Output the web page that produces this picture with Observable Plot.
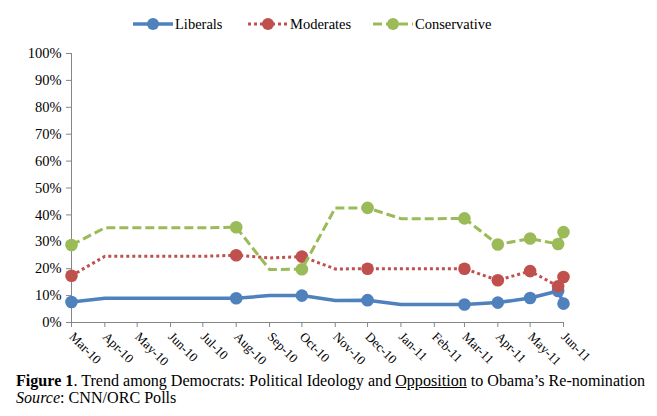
<!DOCTYPE html>
<html>
<head>
<meta charset="utf-8">
<script src="https://cdn.jsdelivr.net/npm/d3@7"></script>
<script src="https://cdn.jsdelivr.net/npm/@observablehq/plot@0.6"></script>
<style>
  body { margin: 0; background: #fff; font-family: "Liberation Serif", "Times New Roman", Tinos, "DejaVu Serif", serif; }
  #wrap { position: relative; width: 657px; height: 416px; overflow: hidden; }
  #legend { position: absolute; top: 12px; left: 0; width: 657px; height: 24px; font-size: 14.5px; color: #000; }
  .item { position: absolute; top: 0; display: flex; align-items: center; height: 24px; }
  .item svg { margin-right: 2px; }
  #chart { position: absolute; top: 40px; left: 0; }
  #caption { position: absolute; left: 16px; top: 373px; font-size: 16.1px; line-height: 16.5px; color: #000; white-space: nowrap; }
</style>
</head>
<body>
<div id="wrap">
  <div id="legend"></div>
  <div id="chart"></div>
  <div id="caption"><b>Figure 1</b>. Trend among Democrats: Political Ideology and <u>Opposition</u> to Obama’s Re-nomination<br><i>Source</i>: CNN/ORC Polls</div>
</div>
<script>
const dates = ["2010-03-01","2010-04-01","2010-05-01","2010-06-01","2010-07-01","2010-08-01","2010-09-01","2010-10-01","2010-11-01","2010-12-01","2011-01-01","2011-02-01","2011-03-01","2011-04-01","2011-05-01","2011-05-27","2011-06-01"];
const liberals     = [7.6, 9.0, 9.0, 9.0, 9.0, 9.0, 10.0, 10.0, 8.2, 8.3, 6.7, 6.7, 6.7, 7.4, 9.1, 11.7, 7.0];
const moderates    = [17.4, 24.6, 24.6, 24.6, 24.6, 25.0, 24.0, 24.5, 19.9, 20.0, 20.0, 20.0, 20.0, 15.7, 19.1, 13.5, 16.9];
const conservative = [28.8, 35.2, 35.2, 35.2, 35.2, 35.4, 19.7, 19.8, 42.6, 42.6, 38.6, 38.6, 38.7, 29.0, 31.2, 29.2, 33.6];
const pollMarker   = [1,0,0,0,0,1,0,1,0,1,0,0,1,1,1,1,1];
const seriesNames  = ["Liberals", "Moderates", "Conservative"];
const seriesColors = ["#4F81BD", "#C0504D", "#9BBB59"];
const yTicks = [0,10,20,30,40,50,60,70,80,90,100];

const seriesValues = [liberals, moderates, conservative];
const dash = [null, "3,3", "9,4"];
const cap = ["round", "butt", "butt"];
const widths = [3.5, 3, 3];
const serif = "'Liberation Serif', 'Times New Roman', Tinos, 'DejaVu Serif', serif";

const series = seriesNames.map((name, i) => dates.map((d, j) => ({
  date: new Date(d + "T00:00:00Z"), value: seriesValues[i][j], marker: pollMarker[j], name
})));

const marks = [
  Plot.ruleX([new Date("2010-03-01T00:00:00Z")], {y1: 0, y2: 100, stroke: "#868686", strokeWidth: 1}),
  Plot.ruleY([0], {stroke: "#868686", strokeWidth: 1}),
  Plot.axisY({ticks: yTicks, tickFormat: d => d + "%", tickSize: 5, tickPadding: 5, stroke: "#868686",
    fontSize: 14.5, fill: "#000", label: null}),
  Plot.axisX({ticks: d3.utcMonth.every(1), tickFormat: d3.utcFormat("%b-%y"), tickSize: 5, tickPadding: 7,
    tickRotate: 45, stroke: "#868686", fontSize: 13, fill: "#000", label: null})
];
series.forEach((s, i) => {
  marks.push(Plot.line(s, {x: "date", y: "value", stroke: seriesColors[i], strokeWidth: widths[i],
    strokeDasharray: dash[i], strokeLinecap: cap[i], strokeLinejoin: "round", curve: "linear"}));
  marks.push(Plot.dot(s.filter(d => d.marker), {x: "date", y: "value", r: 6.3, fill: seriesColors[i], stroke: null}));
});

const chart = Plot.plot({
  width: 657,
  height: 330,
  marginLeft: 71,
  marginRight: 94,
  marginTop: 13,
  marginBottom: 48,
  style: {fontFamily: serif, background: "#fff", overflow: "visible"},
  x: {type: "utc", domain: [new Date("2010-03-01T00:00:00Z"), new Date("2011-06-01T00:00:00Z")]},
  y: {domain: [0, 100]},
  marks
});
document.getElementById("chart").appendChild(chart);

// legend
const legend = document.getElementById("legend");
const lx = [133, 248, 373];
seriesNames.forEach((name, i) => {
  const div = document.createElement("div");
  div.className = "item";
  div.style.left = lx[i] + "px";
  const w = 40;
  div.innerHTML = `<svg width="${w}" height="14"><line x1="0" x2="${w}" y1="7" y2="7" stroke="${seriesColors[i]}" stroke-width="${widths[i]}" ${dash[i] ? `stroke-dasharray="${dash[i]}"` : ""}/><circle cx="${w/2}" cy="7" r="6" fill="${seriesColors[i]}"/></svg><span>${name}</span>`;
  legend.appendChild(div);
});
</script>
</body>
</html>
